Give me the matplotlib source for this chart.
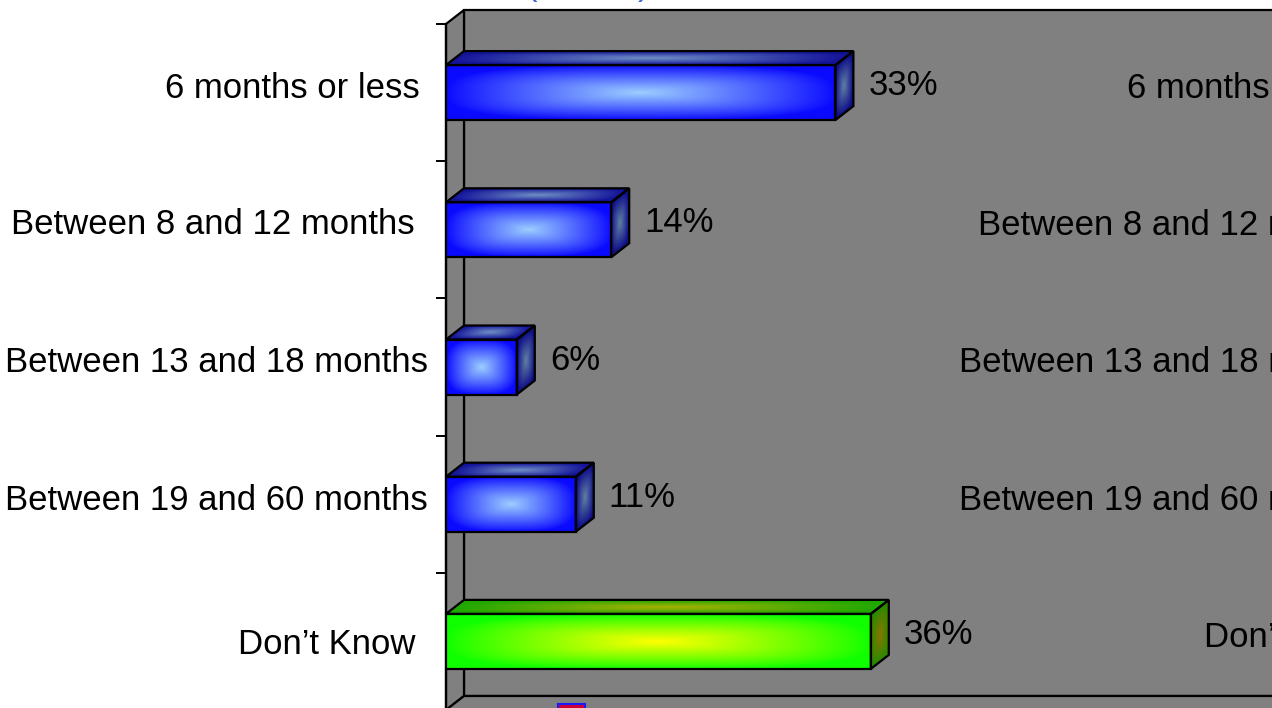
import numpy as np
import matplotlib
matplotlib.use("Agg")
import matplotlib.pyplot as plt
from matplotlib.patches import Polygon, Rectangle

# ---- data ----
categories = ["6 months or less", "Between 8 and 12 months", "Between 13 and 18 months",
              "Between 19 and 60 months", "Don\u2019t Know"]
values = [33, 14, 6, 11, 36]
value_labels = ["33%", "14%", "6%", "11%", "36%"]

plt.rcParams["font.family"] = ["Liberation Sans", "DejaVu Sans"]

W, H, DPI = 1272, 708, 100
fig = plt.figure(figsize=(W / DPI, H / DPI), dpi=DPI, facecolor="white")

# front plane of the chart, in pixels
px_left, px_top, px_bottom, px_right = 446, 24, 710, 1400
px_per_pct = 11.8
ax = fig.add_axes([px_left / W, (H - px_bottom) / H,
                   (px_right - px_left) / W, (px_bottom - px_top) / H])
n = len(categories)
xmax = (px_right - px_left) / px_per_pct
ax.set_xlim(0, xmax)
ax.set_ylim(n - 0.5, -0.5)
band_px = (px_bottom - px_top) / n

# 3-D depth offset (data units)
DX = 18 / px_per_pct
DY = 14 / band_px
BAR_H = 55 / band_px

GREY = "#808080"
LW = 1.6

# walls
back = Polygon([(DX, -0.5 - DY), (xmax + 5, -0.5 - DY), (xmax + 5, n - 0.5 - DY), (DX, n - 0.5 - DY)],
               closed=True, facecolor=GREY, edgecolor="black", lw=LW, clip_on=False, zorder=0)
side = Polygon([(0, -0.5), (DX, -0.5 - DY), (DX, n - 0.5 - DY), (0, n - 0.5)],
               closed=True, facecolor=GREY, edgecolor="black", lw=LW, clip_on=False, zorder=0.5)
floor = Polygon([(0, n - 0.5), (DX, n - 0.5 - DY), (xmax + 5, n - 0.5 - DY), (xmax + 5, n - 0.5)],
                closed=True, facecolor=GREY, edgecolor="black", lw=LW, clip_on=False, zorder=0.5)
for p in (back, side, floor):
    ax.add_patch(p)
ax.set_facecolor("none")


def hex2rgb(h):
    h = h.lstrip("#")
    return np.array([int(h[i:i + 2], 16) / 255 for i in (0, 2, 4)])


def shaded_face(pts, p0, a, b, edge, center, power=1.0, norm=3.0, z=3):
    """Fill parallelogram p0 + s*a + r*b with a path gradient from its centre."""
    pts = np.asarray(pts)
    xmin, ymin = pts.min(axis=0)
    xmax_, ymax_ = pts.max(axis=0)
    nx, ny = 400, 100
    xs = np.linspace(xmin, xmax_, nx)
    ys = np.linspace(ymin, ymax_, ny)
    X, Y = np.meshgrid(xs, ys)
    M = np.array([[a[0], b[0]], [a[1], b[1]]])
    Minv = np.linalg.inv(M)
    dxs = X - p0[0]
    dys = Y - p0[1]
    s = Minv[0, 0] * dxs + Minv[0, 1] * dys
    r = Minv[1, 0] * dxs + Minv[1, 1] * dys
    u = np.clip(np.abs(2 * s - 1), 0, 1)
    w = np.clip(np.abs(2 * r - 1), 0, 1)
    t = np.clip((u ** norm + w ** norm) ** (1 / norm), 0, 1)
    k = (1 - t) ** power
    e = hex2rgb(edge)
    c = hex2rgb(center)
    img = e[None, None, :] + (c - e)[None, None, :] * k[:, :, None]
    im = ax.imshow(np.clip(img, 0, 1), extent=(xmin, xmax_, ymin, ymax_), origin="lower",
                   aspect="auto", interpolation="bilinear", zorder=z)
    poly = Polygon(pts, closed=True, facecolor="none", edgecolor="black", lw=LW,
                   zorder=z + 0.5, joinstyle="miter")
    ax.add_patch(poly)
    im.set_clip_path(poly)


blue_style = dict(front=("#0A0AFF", "#9CCEFF"), top=("#14149A", "#7090C4"),
                  right=("#101088", "#6080A4"))
green_style = dict(front=("#10FF00", "#FFFF00"), top=("#20A800", "#A8B000"),
                   right=("#2A8A00", "#8A7400"))

for i, v in enumerate(values):
    st = green_style if i == n - 1 else blue_style
    y0 = i - BAR_H / 2   # upper edge of front face
    y1 = i + BAR_H / 2   # lower edge of front face
    # front face
    shaded_face([(0, y0), (v, y0), (v, y1), (0, y1)], (0, y0), (v, 0), (0, BAR_H),
                *st["front"], power=0.9, norm=3.0, z=3)
    # top face
    shaded_face([(0, y0), (v, y0), (v + DX, y0 - DY), (DX, y0 - DY)],
                (0, y0), (v, 0), (DX, -DY), *st["top"], power=1.0, z=3)
    # right face
    shaded_face([(v, y0), (v + DX, y0 - DY), (v + DX, y1 - DY), (v, y1)],
                (v, y0), (DX, -DY), (0, BAR_H), *st["right"], power=1.0, z=3)
    # value label
    ax.text(v + 33 / px_per_pct, i - DY / 2, value_labels[i], ha="left", va="center",
            fontsize=25, color="black", zorder=6)
    # mirrored category label on the far side
    ax.text(79.3, i - 0.03, categories[i], ha="right", va="center", fontsize=25,
            color="black", zorder=6, clip_on=False)

# category labels left of the front edge (right end and vertical nudge in pixels)
label_right_px = [420, 415, 428, 428, 415]
label_dy_px = [-4.5, -5, -5, -4, 3.5]
for i, name in enumerate(categories):
    ax.text((label_right_px[i] - px_left) / px_per_pct, i + label_dy_px[i] / band_px, name,
            ha="right", va="center", fontsize=25, color="black", clip_on=False)

# axis: front-left edge with ticks at band boundaries
for sp in ("top", "right", "bottom"):
    ax.spines[sp].set_visible(False)
ax.spines["left"].set_linewidth(LW)
ax.spines["left"].set_zorder(2)
ax.set_xticks([])
ax.set_yticks(np.arange(-0.5, n, 1.0))
ax.set_yticklabels([])
ax.tick_params(axis="y", which="major", length=7.5, width=1.4, direction="out")

# title remnant above the plot and legend key below
fig.text(526 / W, (H + 5) / H, "(", fontsize=25, color="#3A66D8", ha="left", va="baseline")
fig.text(638 / W, (H + 5) / H, ")", fontsize=25, color="#3A66D8", ha="left", va="baseline")
fig.patches.append(Rectangle((558 / W, -6 / H), 27 / W, 10 / H, transform=fig.transFigure,
                             facecolor="#cc0033", edgecolor="#1a1aff", lw=1.5, figure=fig))

fig.savefig("out.png", dpi=DPI, facecolor="white")
